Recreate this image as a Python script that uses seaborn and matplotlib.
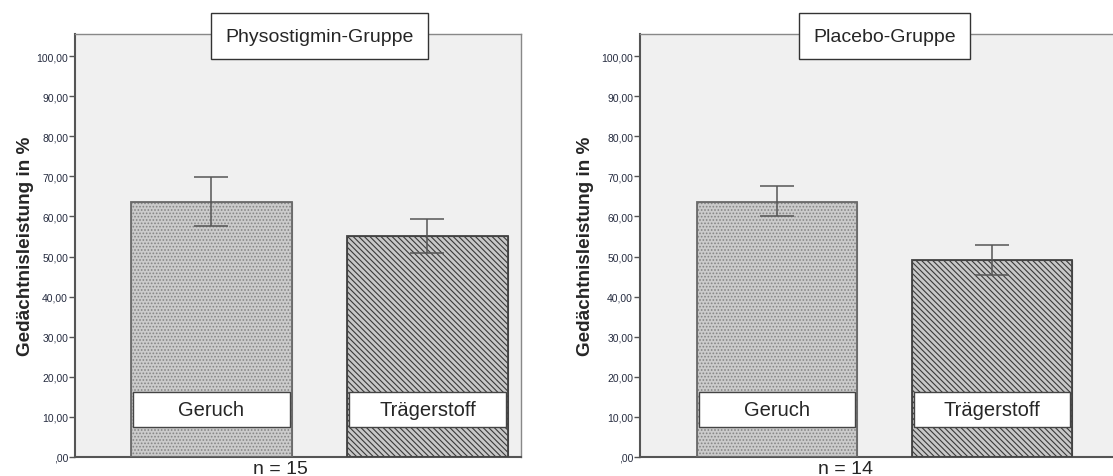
import numpy as np
import pandas as pd
import matplotlib.pyplot as plt
import matplotlib.transforms as mtransforms
from matplotlib.patches import Rectangle
import seaborn as sns

# Werte (Mittelwert, Fehlerbalken unten/oben)
conditions = ["Geruch", "Trägerstoff"]
groups = ["Physostigmin-Gruppe", "Placebo-Gruppe"]
n_values = [15, 14]

physo_mean = [63.7, 55.0]
physo_low = [57.6, 50.8]
physo_high = [69.8, 59.4]

placebo_mean = [63.6, 49.1]
placebo_low = [60.0, 45.4]
placebo_high = [67.6, 52.8]

yticks = np.arange(0, 101, 10)

sns.set_style("white")
plt.rcParams['font.family'] = ['Liberation Sans', 'DejaVu Sans']
plt.rcParams['hatch.linewidth'] = 0.8

face_colors = ['#cbcbcb', '#c8c8c8']
hatch_colors = ['#858585', '#3a3a3a']
outline_colors = ['#6a6a6a', '#444444']
hatches = ['.....', '\\' * 6]

fig = plt.figure(figsize=(11.13, 4.77), dpi=100)
ax_left = fig.add_axes([75 / 1113, 19 / 477, 446 / 1113, 423 / 477])
ax_right = fig.add_axes([640 / 1113, 19 / 477, 500 / 1113, 423 / 477])


def draw_panel(ax, title, mean, low, high, n, xlim):
    df = pd.DataFrame({'Bedingung': conditions, 'Wert': mean})
    sns.barplot(data=df, x='Bedingung', y='Wert', ax=ax, width=0.745,
                errorbar=None, color='#cccccc', zorder=2)
    for i, patch in enumerate(ax.patches):
        patch.set_facecolor(face_colors[i])
        patch.set_edgecolor(hatch_colors[i])
        patch.set_hatch(hatches[i])
        patch.set_linewidth(0.8)
        # Rahmen
        ax.add_patch(Rectangle((patch.get_x(), 0), patch.get_width(), patch.get_height(),
                               fill=False, edgecolor=outline_colors[i], linewidth=1.3, zorder=3))
        # weiße Beschriftungsbox im Balken
        ax.add_patch(Rectangle((patch.get_x() + 0.01, 7.5), patch.get_width() - 0.02, 8.7,
                               facecolor='white', edgecolor='#444444', linewidth=1.0, zorder=4))
        ax.text(patch.get_x() + patch.get_width() / 2, 11.85, conditions[i],
                ha='center', va='center', fontsize=14.5, zorder=5)

    mean_arr = np.array(mean)
    yerr = [mean_arr - np.array(low), np.array(high) - mean_arr]
    ax.errorbar([0, 1], mean, yerr=yerr, fmt='none', ecolor='#555555',
                elinewidth=1.1, capsize=12, capthick=1.1, zorder=6)

    ax.set_facecolor('#f0f0f0')
    ax.set_xlim(*xlim)
    ax.set_ylim(0, 105.5)
    ax.set_yticks(yticks)
    ax.set_yticklabels([f"{v:.2f}".replace('.', ',').lstrip('0') if v == 0 else
                        f"{v:.2f}".replace('.', ',') for v in yticks])
    ax.tick_params(axis='y', left=True, length=4, width=1, color='#555555',
                   labelsize=7.5, labelcolor='#262c40', pad=1)
    ax.tick_params(axis='x', bottom=False, labelbottom=False)
    ax.set_xlabel('')
    ax.set_ylabel('Gedächtnisleistung in %', fontsize=13.6, fontweight='bold')
    ax.yaxis.set_label_coords(-0.092, 0.5)

    for side in ['left', 'bottom']:
        ax.spines[side].set_color('#555555')
        ax.spines[side].set_linewidth(1.5)
    for side in ['top', 'right']:
        ax.spines[side].set_color('#888888')
        ax.spines[side].set_linewidth(1.0)

    trans = mtransforms.blended_transform_factory(ax.transData, ax.transAxes)
    ax.text(0.5, 0.995, title, transform=trans, ha='center', va='center',
            fontsize=14, zorder=10, clip_on=False,
            bbox=dict(boxstyle='square,pad=0.75', facecolor='white',
                      edgecolor='#333333', linewidth=1.0))
    ax.text(0.32, -0.008, f"n = {n}", transform=trans, ha='center', va='top',
            fontsize=14, clip_on=False)


draw_panel(ax_left, groups[0], physo_mean, physo_low, physo_high, n_values[0], (-0.632, 1.433))
draw_panel(ax_right, groups[1], placebo_mean, placebo_low, placebo_high, n_values[1], (-0.637, 1.689))

fig.savefig('out.png', dpi=100, facecolor='white')
